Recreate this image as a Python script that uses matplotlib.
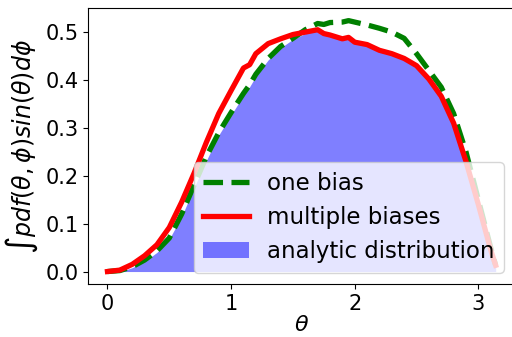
import matplotlib
matplotlib.use("Agg")
import matplotlib.pyplot as plt

# values
theta = [0.0, 0.1, 0.2, 0.3, 0.4, 0.5, 0.6, 0.7, 0.8, 0.9, 1.0, 1.1, 1.15, 1.2,
         1.3, 1.4, 1.5, 1.6, 1.7, 1.75, 1.8, 1.9, 1.95, 2.0, 2.1, 2.2, 2.3, 2.4,
         2.5, 2.6, 2.7, 2.8, 2.9, 3.0, 3.1, 3.14]

one_bias = [0.0, 0.002, 0.01, 0.024, 0.043, 0.07, 0.12, 0.18, 0.24, 0.29,
            0.332, 0.372, 0.39, 0.412, 0.445, 0.47, 0.487, 0.505, 0.518, 0.516,
            0.52, 0.521, 0.524, 0.521, 0.515, 0.508, 0.5, 0.487, 0.455, 0.42,
            0.385, 0.33, 0.25, 0.15, 0.05, 0.013]

multi_bias = [0.0, 0.003, 0.015, 0.033, 0.056, 0.092, 0.145, 0.205, 0.27, 0.33,
              0.378, 0.425, 0.432, 0.455, 0.476, 0.486, 0.495, 0.5, 0.505, 0.497,
              0.494, 0.486, 0.489, 0.479, 0.474, 0.462, 0.455, 0.445, 0.43, 0.402,
              0.366, 0.31, 0.23, 0.14, 0.045, 0.013]

analytic = [0.0, 0.0, 0.008, 0.021, 0.04, 0.068, 0.115, 0.175, 0.232, 0.285,
            0.327, 0.368, 0.386, 0.408, 0.442, 0.467, 0.485, 0.497, 0.503, 0.495,
            0.492, 0.484, 0.487, 0.477, 0.472, 0.46, 0.453, 0.443, 0.428, 0.4,
            0.364, 0.308, 0.228, 0.14, 0.045, 0.012]

fig = plt.figure(figsize=(5.12, 3.37), dpi=100)
ax = fig.add_axes([0.172, 0.157, 0.834, 0.819])

ax.plot(theta, one_bias, '--', color='green', linewidth=3.8, label='one bias')
ax.plot(theta, multi_bias, '-', color='red', linewidth=3.8, label='multiple biases')
ax.fill_between(theta, 0, analytic, color='blue', alpha=0.5, linewidth=0,
                label='analytic distribution')

ax.set_xlabel(r'$\theta$', fontsize=16, labelpad=1)
ax.set_ylabel(r'$\int pdf(\theta,\phi) sin(\theta) d\phi$', fontsize=17)
ax.tick_params(labelsize=15)
ax.set_xticks([0, 1, 2, 3])
ax.set_yticks([0.0, 0.1, 0.2, 0.3, 0.4, 0.5])
ax.legend(loc='lower right', fontsize=16.5)

fig.savefig('out.png', dpi=100)
